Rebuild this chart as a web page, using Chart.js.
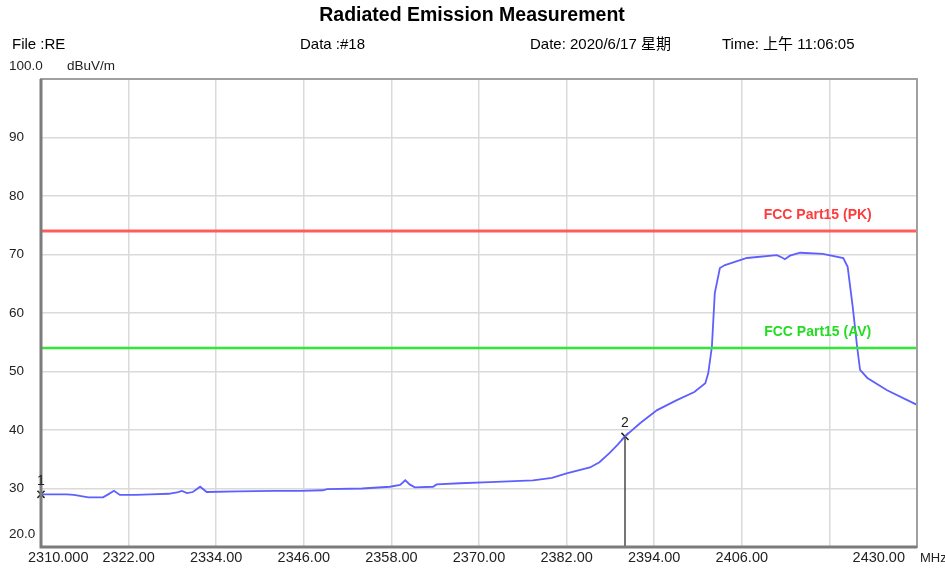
<!DOCTYPE html>
<html>
<head>
<meta charset="utf-8">
<script src="https://cdn.jsdelivr.net/npm/chart.js@4.4.8/dist/chart.umd.min.js"></script>
<style>
  html, body { margin: 0; padding: 0; background: #fff; }
  #wrap { width: 945px; height: 570px; }
</style>
</head>
<body>
<div id="wrap"><canvas id="chart" width="945" height="570"></canvas></div>
<script>
// trace (MHz / dBuV/m)
const freqMHz = [2310.0, 2313.5, 2314.5, 2316.5, 2318.5, 2319.2, 2320.0, 2320.8, 2323.0, 2325.0,
  2327.5, 2328.8, 2329.3, 2330.0, 2330.8, 2331.8, 2332.7, 2337.0, 2342.0, 2345.5,
  2348.6, 2349.2, 2354.0, 2357.8, 2359.2, 2359.9, 2360.5, 2361.2, 2363.7, 2364.2,
  2367.4, 2371.5, 2377.4, 2380.0, 2382.0, 2385.2, 2386.5, 2387.9, 2389.0, 2390.0,
  2392.1, 2394.4, 2397.1, 2399.5, 2401.0, 2401.4, 2401.9, 2402.3, 2403.0, 2403.7,
  2406.7, 2410.8, 2411.5, 2411.9, 2412.6, 2414.0, 2417.1, 2419.9, 2420.5, 2421.2,
  2421.8, 2422.2, 2423.2, 2425.9, 2430.0];
const levelDb = [29.0, 29.0, 28.9, 28.5, 28.5, 29.0, 29.6, 28.9, 28.9, 29.0,
  29.1, 29.4, 29.6, 29.2, 29.4, 30.3, 29.4, 29.5, 29.6, 29.6,
  29.7, 29.9, 30.0, 30.3, 30.6, 31.4, 30.7, 30.2, 30.3, 30.7,
  30.9, 31.1, 31.4, 31.8, 32.6, 33.6, 34.5, 36.1, 37.5, 38.9,
  41.2, 43.4, 45.1, 46.5, 48.0, 49.7, 54.2, 63.4, 67.7, 68.2,
  69.4, 69.9, 69.5, 69.2, 69.8, 70.3, 70.1, 69.4, 67.9, 61.0,
  54.2, 50.3, 48.9, 46.8, 44.3];

const markerNames = ['1', '2'];
const markerFreq = [2310.0, 2390.0];
const markerLevel = [29.0, 38.9];

const limitNames = ['FCC Part15 (PK)', 'FCC Part15 (AV)'];
const limitLevel = [74, 54];
const limitColor = ['#ff5c5c', '#33e833'];
const limitTextColor = ['#ff3b3b', '#22dd22'];

const xTickValues = [2310, 2322, 2334, 2346, 2358, 2370, 2382, 2394, 2406, 2418, 2430];
const xTickLabels = ['2310.000', '2322.00', '2334.00', '2346.00', '2358.00', '2370.00', '2382.00', '2394.00', '2406.00', '', '2430.00'];
const yTickValues = [100, 90, 80, 70, 60, 50, 40, 30, 20];
const yTickLabels = ['100.0', '90', '80', '70', '60', '50', '40', '30', '20.0'];

const titleText = 'Radiated Emission Measurement';
const headerTexts = ['File :RE', 'Data :#18', 'Date: 2020/6/17 星期', 'Time: 上午 11:06:05'];
const yUnit = 'dBuV/m';
const xUnit = 'MHz';

const FONT = '"Liberation Sans", Arial, "Noto Sans CJK SC", sans-serif';

const textPlugin = {
  id: 'texts',
  afterDraw(chart) {
    const c = chart.ctx;
    const xs = chart.scales.x, ys = chart.scales.y;
    const area = chart.chartArea;
    c.save();

    // frame
    c.strokeStyle = '#a0a0a0';
    c.lineWidth = 2;
    c.strokeRect(area.left, area.top, area.right - area.left, area.bottom - area.top);
    c.strokeStyle = '#7c7c7c';
    c.lineWidth = 3;
    c.beginPath();
    c.moveTo(area.left, area.top);
    c.lineTo(area.left, area.bottom);
    c.lineTo(area.right, area.bottom);
    c.stroke();

    // title + header line
    c.fillStyle = '#000';
    c.textBaseline = 'middle';
    c.textAlign = 'center';
    c.font = 'bold 19.5px ' + FONT;
    c.fillText(titleText, 472, 16);
    c.textAlign = 'left';
    c.font = '15px ' + FONT;
    const headerX = [12, 300, 530, 722];
    headerTexts.forEach((t, i) => c.fillText(t, headerX[i], 45));

    // y labels
    c.font = '13.5px ' + FONT;
    c.fillStyle = '#222';
    yTickValues.forEach((v, i) => {
      let y = ys.getPixelForValue(v);
      if (v === 100) y = area.top - 13;
      if (v === 20) y -= 13;
      c.fillText(yTickLabels[i], 9, y);
    });
    c.fillText(yUnit, 67, area.top - 13);

    // x labels
    c.font = '14.5px ' + FONT;
    xTickValues.forEach((v, i) => {
      const x = xs.getPixelForValue(v);
      if (i === 0) { c.textAlign = 'left'; c.fillText(xTickLabels[i], x - 13, area.bottom + 11); }
      else if (i === xTickValues.length - 1) { c.textAlign = 'right'; c.fillText(xTickLabels[i], x - 12, area.bottom + 11); }
      else { c.textAlign = 'center'; c.fillText(xTickLabels[i], x, area.bottom + 11); }
    });
    c.textAlign = 'left';
    c.font = '13px ' + FONT;
    c.fillText(xUnit, area.right + 3, area.bottom + 11);

    // limit line names
    c.font = 'bold 14px ' + FONT;
    c.textAlign = 'center';
    limitNames.forEach((n, i) => {
      c.fillStyle = limitTextColor[i];
      c.fillText(n, xs.getPixelForValue(2416.4), ys.getPixelForValue(limitLevel[i]) - 16);
    });

    // marker numbers
    c.fillStyle = '#222';
    c.font = '14px ' + FONT;
    markerNames.forEach((n, i) => {
      c.fillText(n, xs.getPixelForValue(markerFreq[i]), ys.getPixelForValue(markerLevel[i]) - 13);
    });
    c.restore();
  }
};

const xMin = xTickValues[0], xMax = xTickValues[xTickValues.length - 1];
const gridStyle = { color: '#dadada', lineWidth: 1.5, drawTicks: false };

new Chart(document.getElementById('chart'), {
  type: 'scatter',
  data: {
    datasets: [
      {
        label: 'Marker 2 line',
        data: [{ x: markerFreq[1], y: markerLevel[1] }, { x: markerFreq[1], y: 20 }],
        showLine: true, borderColor: '#4a4a4a', borderWidth: 1.5, pointRadius: 0
      },
      {
        label: limitNames[0],
        data: [{ x: xMin, y: limitLevel[0] }, { x: xMax, y: limitLevel[0] }],
        showLine: true, borderColor: limitColor[0], borderWidth: 3, pointRadius: 0
      },
      {
        label: limitNames[1],
        data: [{ x: xMin, y: limitLevel[1] }, { x: xMax, y: limitLevel[1] }],
        showLine: true, borderColor: limitColor[1], borderWidth: 2.5, pointRadius: 0
      },
      {
        label: 'Trace',
        data: freqMHz.map((f, i) => ({ x: f, y: levelDb[i] })),
        showLine: true, borderColor: '#5f5fff', borderWidth: 1.8, pointRadius: 0, tension: 0
      },
      {
        label: 'Markers',
        data: markerFreq.map((f, i) => ({ x: f, y: markerLevel[i] })),
        showLine: false, pointStyle: 'crossRot', pointRadius: 5,
        borderColor: '#222', borderWidth: 1.5, clip: false
      }
    ]
  },
  options: {
    responsive: false,
    animation: false,
    devicePixelRatio: 1,
    layout: { padding: { left: 41, top: 79, right: 28, bottom: 23 } },
    plugins: { legend: { display: false }, tooltip: { enabled: false } },
    scales: {
      x: {
        type: 'linear', min: xMin, max: xMax,
        ticks: { stepSize: 12, display: false },
        grid: gridStyle, border: { display: false }
      },
      y: {
        min: 20, max: 100,
        ticks: { stepSize: 10, display: false },
        grid: gridStyle, border: { display: false }
      }
    }
  },
  plugins: [textPlugin]
});
</script>
</body>
</html>
